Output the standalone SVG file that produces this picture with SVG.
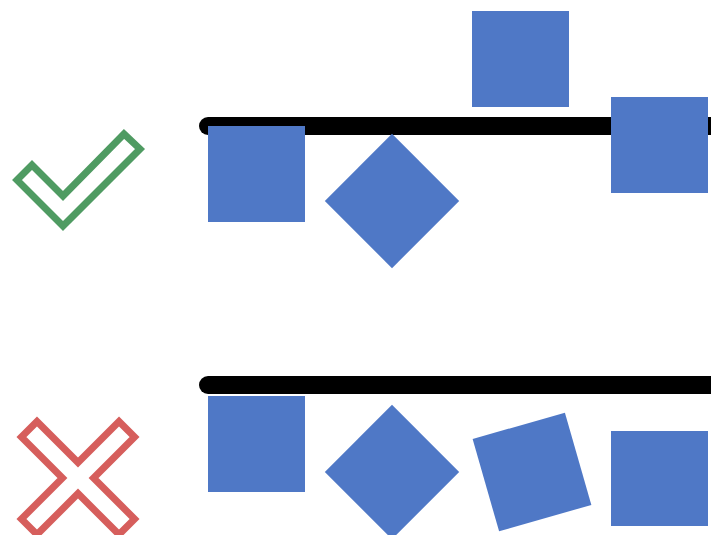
<svg xmlns="http://www.w3.org/2000/svg" width="711" height="535" viewBox="0 0 711 535">
  <style>
    .bar { stroke: #000000; stroke-width: 18; stroke-linecap: round; fill: none; }
    .shape { fill: #4F78C6; }
    .icon { fill: #ffffff; stroke-width: 7; stroke-linejoin: miter; }
  </style>
  <rect width="711" height="535" fill="#ffffff"/>

  <g id="lines">
    <line class="bar" x1="208" y1="126" x2="730" y2="126"/>
    <line class="bar" x1="208" y1="385" x2="730" y2="385"/>
  </g>

  <g id="check-mark">
    <polygon class="icon" stroke="#4F9B62" points="17,180 32,165 63,196 124,134 140,149 63,226"/>
  </g>

  <g id="cross-mark">
    <polygon class="icon" stroke="#D65E5C" transform="translate(78,478) rotate(45)"
      points="11,-69 11,-11 69,-11 69,11 11,11 11,69 -11,69 -11,11 -69,11 -69,-11 -11,-11 -11,-69"/>
  </g>

  <g id="top-row">
    <rect id="top-square-1" class="shape" x="208" y="126" width="97" height="96"/>
    <rect id="top-diamond" class="shape" x="-47.5" y="-47.5" width="95" height="95" transform="translate(392,201) rotate(45)"/>
    <rect id="top-square-raised" class="shape" x="472" y="11" width="97" height="96"/>
    <rect id="top-square-right" class="shape" x="611" y="97" width="97" height="96"/>
  </g>

  <g id="bottom-row">
    <rect id="bottom-square-1" class="shape" x="208" y="396" width="97" height="96"/>
    <rect id="bottom-diamond" class="shape" x="-47.5" y="-47.5" width="95" height="95" transform="translate(392,472) rotate(45)"/>
    <rect id="bottom-square-tilted" class="shape" x="-48" y="-48" width="96" height="96" transform="translate(532,472) rotate(-16)"/>
    <rect id="bottom-square-right" class="shape" x="611" y="431" width="97" height="95"/>
  </g>
</svg>
